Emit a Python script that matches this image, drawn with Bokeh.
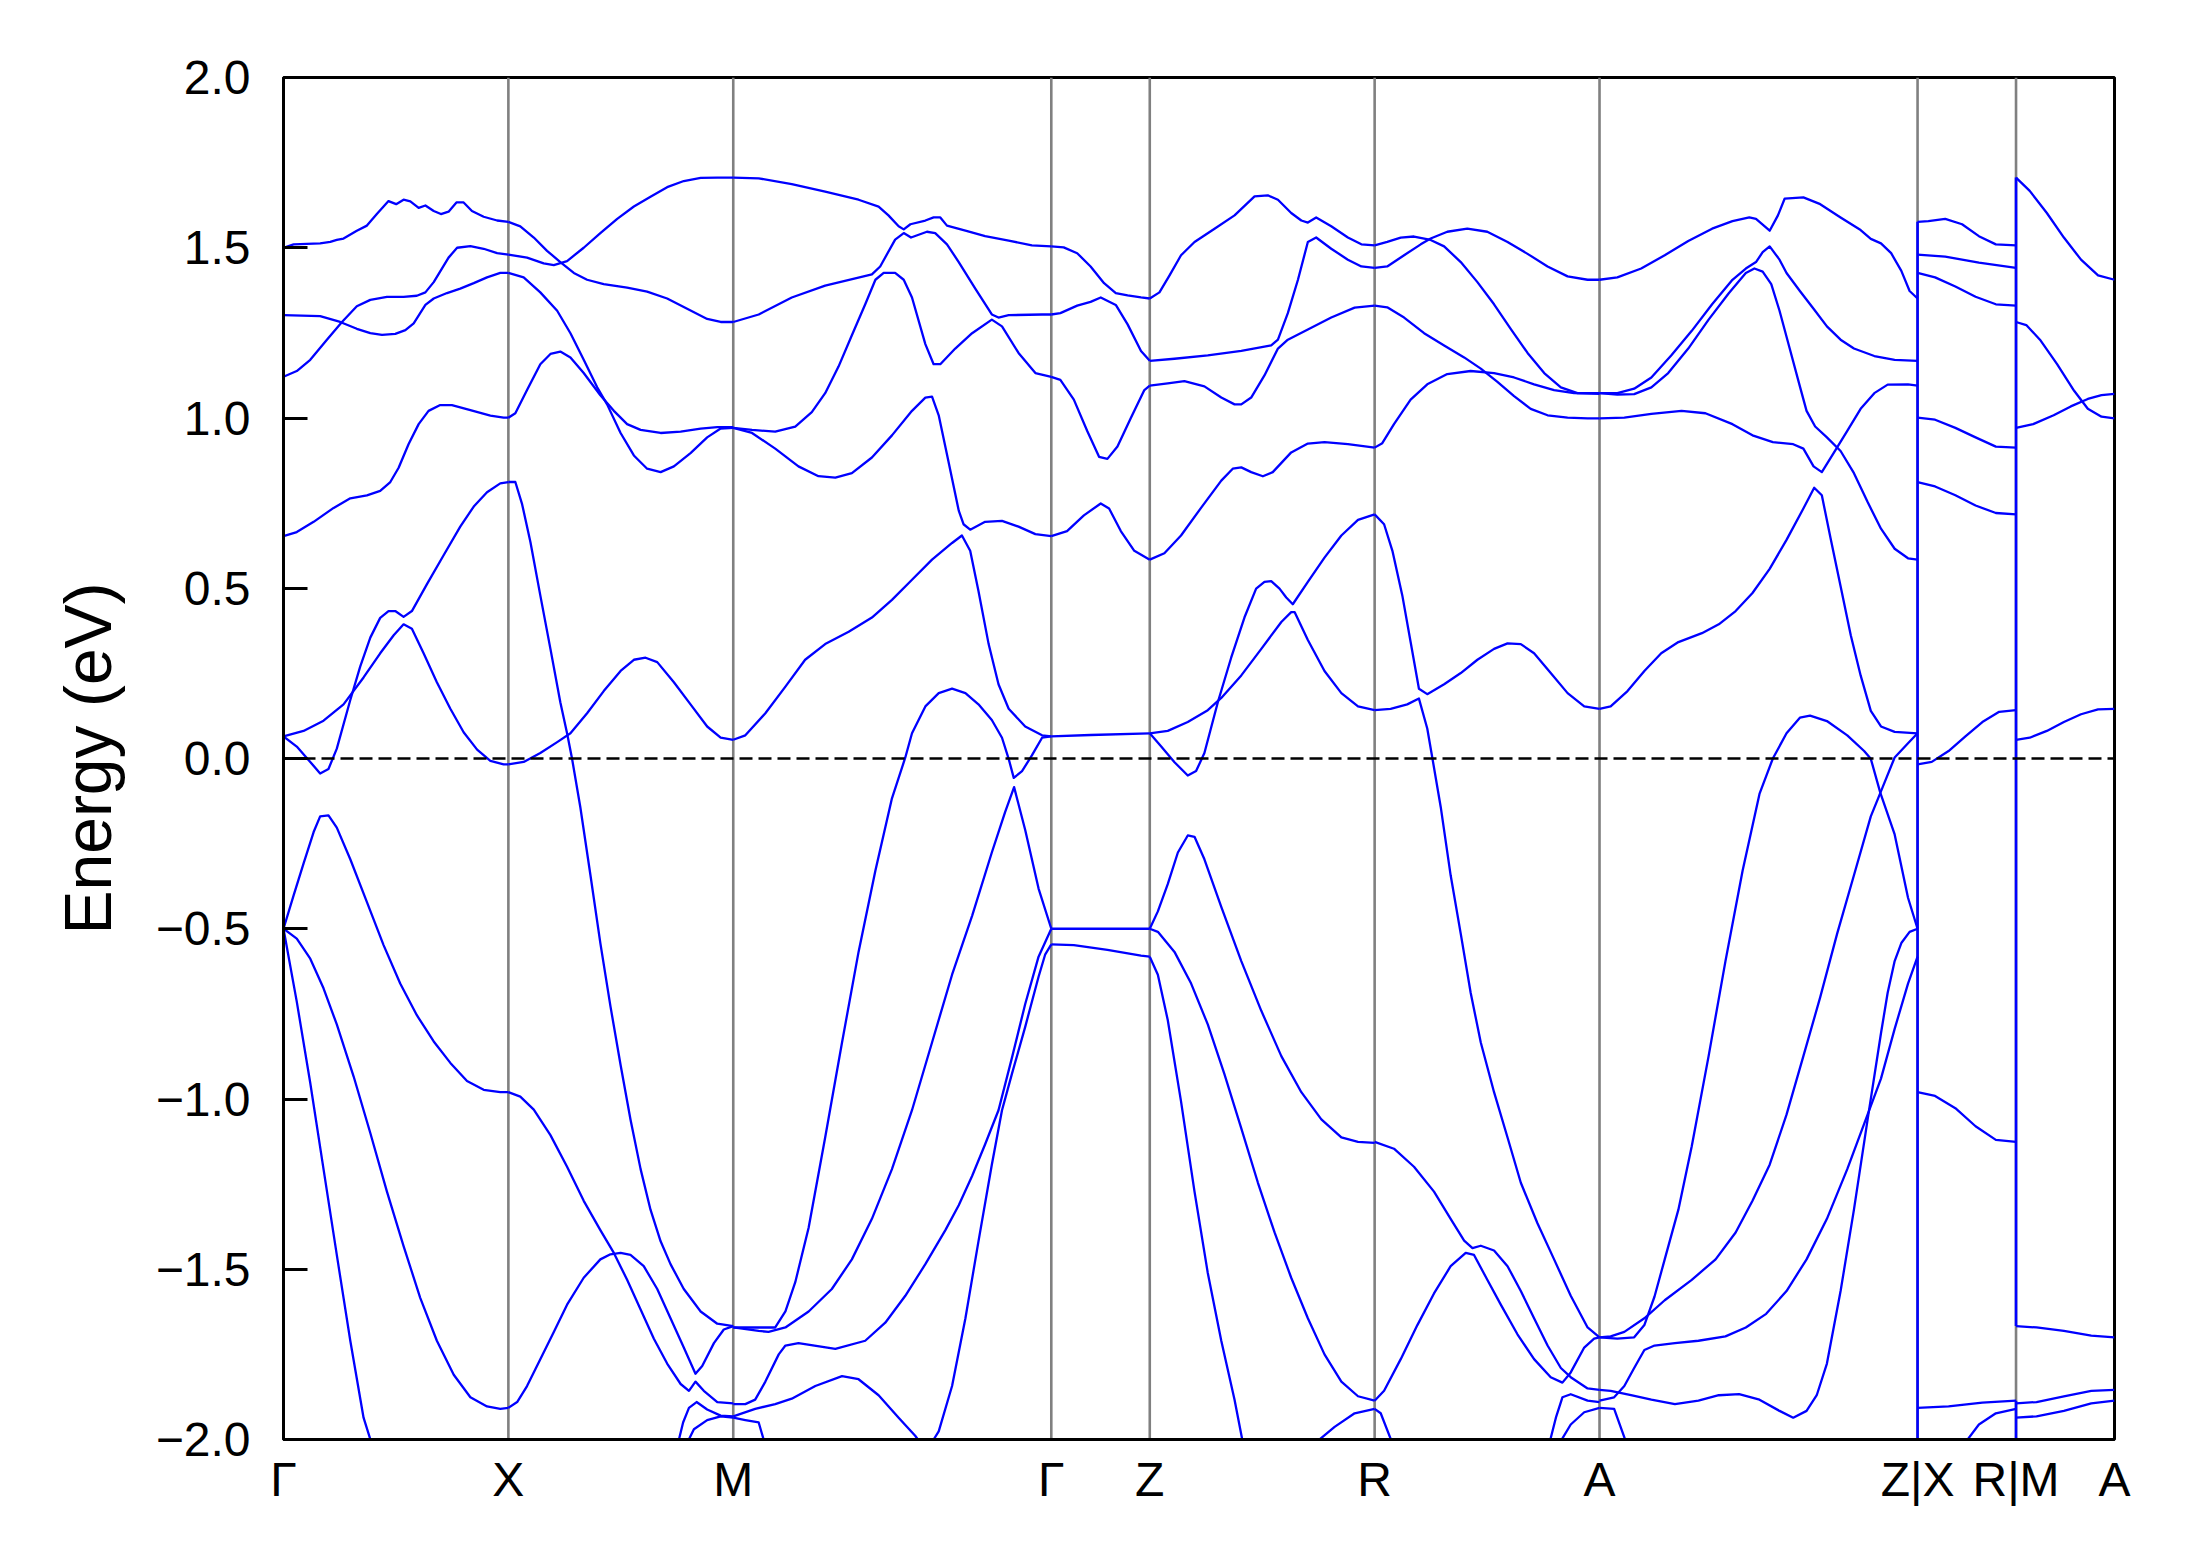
from bokeh.plotting import figure
from bokeh.models import FixedTicker, Span, Range1d
from bokeh.embed import file_html
from bokeh.resources import INLINE

# ---------------- k-path (high-symmetry points) ----------------
kpath_labels = ["Γ", "X", "M", "Γ", "Z", "R", "A", "Z|X", "R|M", "A"]
kpath_pos = [0.0, 0.161, 0.322, 0.5497, 0.6202, 0.7812, 0.9422, 1.1699, 1.2404, 1.3109]

# y ticks
ytick_vals = [-2.0, -1.5, -1.0, -0.5, 0.0, 0.5, 1.0, 1.5, 2.0]
ytick_text = ["−2.0", "−1.5", "−1.0", "−0.5", "0.0", "0.5", "1.0", "1.5", "2.0"]

# ---------------- bands: per segment, (fraction along segment, energy eV) ----------------
GX_bands = [
    ([0, .045, .163, .208, .237, .267, .326, .371, .415, .467, .501, .534, .564, .601, .631, .668, .700, .734, .769, .801, .838, .890, .950, 1],
     [1.500, 1.510, 1.513, 1.517, 1.523, 1.527, 1.550, 1.565, 1.599, 1.637, 1.628, 1.641, 1.636, 1.617, 1.624, 1.608, 1.599, 1.606, 1.633, 1.633, 1.608, 1.591, 1.580, 1.576]),
    ([0, .163, .252, .326, .386, .438, .497, .542, .579, .631, .668, .727, .786, .846, .905, .964, 1],
     [1.302, 1.299, 1.282, 1.262, 1.249, 1.244, 1.247, 1.258, 1.278, 1.332, 1.351, 1.367, 1.380, 1.396, 1.413, 1.426, 1.426]),
    ([0, .059, .119, .193, .260, .326, .386, .460, .534, .593, .631, .668, .734, .772, .831, .890, .950, 1],
     [1.121, 1.138, 1.171, 1.230, 1.282, 1.328, 1.347, 1.356, 1.356, 1.359, 1.369, 1.399, 1.471, 1.500, 1.505, 1.497, 1.484, 1.480]),
    ([0, .059, .134, .223, .297, .371, .430, .475, .512, .556, .601, .645, .697, .749, .831, .920, .979, 1],
     [0.653, 0.665, 0.695, 0.736, 0.764, 0.773, 0.786, 0.812, 0.854, 0.923, 0.982, 1.021, 1.038, 1.038, 1.023, 1.007, 1.001, 1.001]),
    ([0, .089, .178, .267, .356, .430, .490, .534, .571, .623, .682, .742, .801, .861, .920, .979, 1],
     [0.065, 0.081, 0.111, 0.159, 0.238, 0.309, 0.362, 0.394, 0.381, 0.309, 0.224, 0.146, 0.077, 0.026, -0.007, -0.017, -0.017]),
    ([0, .059, .119, .163, .200, .237, .297, .341, .386, .430, .467, .497, .534, .571, .638, .712, .786, .846, .905, .964, 1],
     [0.065, 0.035, -0.010, -0.044, -0.031, 0.029, 0.172, 0.270, 0.355, 0.413, 0.433, 0.433, 0.416, 0.433, 0.512, 0.597, 0.681, 0.740, 0.782, 0.808, 0.812]),
    ([0, .045, .089, .134, .163, .200, .237, .297, .371, .445, .519, .593, .668, .742, .816, .890, .964, 1],
     [-0.500, -0.402, -0.309, -0.216, -0.170, -0.167, -0.203, -0.296, -0.422, -0.548, -0.661, -0.754, -0.831, -0.894, -0.947, -0.973, -0.980, -0.980]),
    ([0, .059, .119, .178, .237, .312, .386, .460, .534, .608, .682, .757, .831, .905, .964, 1],
     [-0.500, -0.529, -0.588, -0.675, -0.781, -0.934, -1.100, -1.272, -1.432, -1.584, -1.710, -1.810, -1.876, -1.903, -1.910, -1.907]),
    ([0, .059, .119, .178, .237, .297, .356, .410],
     [-0.500, -0.714, -0.953, -1.206, -1.458, -1.710, -1.936, -2.05]),
]

XM_bands = [
    ([0, .053, .113, .172, .231, .291, .350, .424, .528, .617, .706, .795, .884, .944, 1],
     [1.576, 1.563, 1.530, 1.491, 1.458, 1.426, 1.406, 1.393, 1.383, 1.371, 1.351, 1.321, 1.291, 1.282, 1.282]),
    ([0, .083, .157, .202, .261, .335, .409, .484, .558, .632, .706, .780, .855, .929, 1],
     [1.480, 1.471, 1.454, 1.449, 1.461, 1.500, 1.543, 1.585, 1.621, 1.650, 1.678, 1.696, 1.705, 1.706, 1.706]),
    ([0, .068, .142, .217, .276, .335, .395, .439, .499, .558, .617, .677, .736, .810, .884, .944, 1],
     [1.426, 1.413, 1.369, 1.315, 1.249, 1.171, 1.090, 1.040, 0.956, 0.890, 0.851, 0.841, 0.858, 0.897, 0.943, 0.969, 0.971]),
    ([0, .031, .083, .142, .187, .231, .276, .335, .409, .469, .528, .588, .677, .766, .855, .929, 1],
     [1.001, 1.014, 1.082, 1.158, 1.188, 1.195, 1.178, 1.132, 1.067, 1.021, 0.982, 0.965, 0.956, 0.960, 0.969, 0.973, 0.973]),
    ([0, .031, .061, .098, .142, .187, .231, .261, .283, .320, .365, .409, .454, .499, .543, .588, .632, .677, .721, .780, .855, .929, 1],
     [0.812, 0.812, 0.747, 0.636, 0.479, 0.322, 0.165, 0.074, 0.000, -0.143, -0.343, -0.542, -0.728, -0.900, -1.060, -1.206, -1.325, -1.418, -1.485, -1.558, -1.624, -1.660, -1.667]),
    ([0, .068, .142, .217, .276, .350, .424, .499, .558, .610, .662, .736, .810, .884, .944, 1],
     [-0.017, -0.010, 0.016, 0.048, 0.074, 0.133, 0.198, 0.257, 0.290, 0.296, 0.283, 0.224, 0.159, 0.094, 0.061, 0.055]),
    ([0, .053, .113, .187, .261, .335, .409, .469, .528, .588, .647, .706, .766, .803, .832, .869, .929, 1],
     [-0.980, -0.993, -1.031, -1.106, -1.199, -1.299, -1.385, -1.452, -1.531, -1.618, -1.704, -1.777, -1.837, -1.857, -1.830, -1.857, -1.890, -1.894]),
    ([0, .039, .083, .142, .202, .261, .335, .409, .454, .499, .543, .602, .662, .721, .780, .832, .862, .914, .958, 1],
     [-1.907, -1.890, -1.843, -1.764, -1.684, -1.604, -1.525, -1.471, -1.456, -1.452, -1.458, -1.491, -1.558, -1.644, -1.730, -1.807, -1.784, -1.717, -1.677, -1.667]),
    ([.740, .777, .803, .837, .884, .944, 1],
     [-2.05, -1.950, -1.907, -1.890, -1.912, -1.930, -1.932]),
    ([.765, .825, .884, .944, 1],
     [-2.05, -1.970, -1.943, -1.932, -1.936]),
]

MG_bands = [
    ([0, .080, .184, .289, .394, .457, .488, .520, .536, .557, .604, .630, .651, .672, .730, .792, .866, .939, 1],
     [1.706, 1.704, 1.687, 1.665, 1.641, 1.621, 1.595, 1.563, 1.554, 1.569, 1.580, 1.589, 1.589, 1.565, 1.550, 1.534, 1.521, 1.507, 1.504]),
    ([0, .080, .184, .289, .436, .462, .509, .536, .559, .609, .635, .672, .709, .761, .813, .834, .866, .971, 1],
     [1.282, 1.304, 1.354, 1.389, 1.422, 1.445, 1.524, 1.543, 1.530, 1.547, 1.543, 1.510, 1.458, 1.380, 1.304, 1.295, 1.302, 1.304, 1.304]),
    ([0, .059, .132, .195, .247, .289, .331, .373, .415, .447, .473, .509, .536, .562, .604, .630, .651, .698, .751, .813, .845, .897, .950, 1],
     [0.971, 0.965, 0.960, 0.975, 1.017, 1.073, 1.151, 1.243, 1.334, 1.406, 1.426, 1.426, 1.406, 1.354, 1.217, 1.158, 1.158, 1.204, 1.249, 1.289, 1.269, 1.191, 1.132, 1.121]),
    ([0, .059, .132, .205, .268, .321, .373, .436, .499, .562, .604, .625, .646, .677, .709, .724, .745, .792, .845, .897, .950, 1],
     [0.971, 0.956, 0.910, 0.858, 0.829, 0.825, 0.838, 0.884, 0.949, 1.021, 1.060, 1.063, 1.008, 0.871, 0.728, 0.688, 0.672, 0.695, 0.698, 0.681, 0.659, 0.653]),
    ([0, .038, .101, .164, .226, .289, .363, .436, .499, .562, .625, .688, .719, .745, .771, .803, .834, .866, .918, .971, 1],
     [0.055, 0.068, 0.133, 0.211, 0.290, 0.336, 0.372, 0.414, 0.466, 0.525, 0.584, 0.633, 0.655, 0.610, 0.492, 0.336, 0.218, 0.146, 0.094, 0.068, 0.065]),
    ([0, .059, .132, .164, .195, .237, .289, .342, .394, .447, .499, .541, .562, .604, .646, .688, .730, .771, .813, .845, .866, .882, .908, .939, .971, 1],
     [-1.671, -1.671, -1.671, -1.624, -1.538, -1.378, -1.113, -0.834, -0.568, -0.329, -0.117, 0.003, 0.074, 0.153, 0.192, 0.205, 0.192, 0.159, 0.113, 0.061, -0.001, -0.057, -0.037, 0.009, 0.061, 0.065]),
    ([0, .080, .111, .164, .237, .310, .373, .436, .499, .562, .625, .688, .751, .813, .855, .883, .918, .960, 1],
     [-1.671, -1.681, -1.684, -1.671, -1.624, -1.558, -1.471, -1.352, -1.206, -1.033, -0.834, -0.635, -0.462, -0.276, -0.157, -0.084, -0.210, -0.382, -0.500]),
    ([0, .038, .069, .101, .143, .164, .205, .321, .415, .478, .541, .604, .667, .709, .751, .792, .834, .876, .918, .960, 1],
     [-1.896, -1.896, -1.883, -1.830, -1.750, -1.724, -1.717, -1.734, -1.710, -1.657, -1.578, -1.485, -1.385, -1.312, -1.226, -1.133, -1.033, -0.880, -0.721, -0.582, -0.500]),
    ([0, .069, .132, .184, .258, .342, .394, .457, .520, .572, .604, .630, .646, .688, .730, .771, .813, .845, .876, .918, .960, .981, 1],
     [-1.932, -1.910, -1.896, -1.880, -1.843, -1.814, -1.823, -1.870, -1.936, -1.989, -2.03, -2.0, -1.976, -1.843, -1.644, -1.418, -1.193, -1.033, -0.927, -0.788, -0.641, -0.575, -0.546]),
    ([0, .038, .080, .111],
     [-1.936, -1.943, -1.950, -2.05]),
]

GZ_bands = [
    ([0, .126, .263, .399, .536, .655, .775, .911, 1], [1.504, 1.501, 1.484, 1.445, 1.396, 1.367, 1.360, 1.354, 1.351]),
    ([0, .092, .263, .399, .502, .655, .775, .911, 1], [1.304, 1.308, 1.330, 1.341, 1.354, 1.332, 1.275, 1.197, 1.168]),
    ([0, .092, .229, .365, .485, .570, .672, .809, .945, 1], [1.121, 1.112, 1.054, 0.962, 0.886, 0.880, 0.916, 1.001, 1.082, 1.095]),
    ([0, .160, .331, .502, .587, .706, .843, 1], [0.653, 0.668, 0.714, 0.749, 0.734, 0.668, 0.610, 0.584]),
    ([0, .399, 1], [0.065, 0.069, 0.074]),
    ([0, 1], [-0.500, -0.500]),
    ([0, .229, .570, .911, 1], [-0.546, -0.548, -0.562, -0.579, -0.582]),
]

ZR_bands = [
    ([0, .043, .088, .139, .199, .288, .377, .466, .525, .570, .629, .674, .703, .740, .807, .881, .941, 1],
     [1.351, 1.369, 1.419, 1.478, 1.517, 1.556, 1.595, 1.651, 1.654, 1.641, 1.602, 1.580, 1.574, 1.589, 1.563, 1.530, 1.510, 1.507]),
    ([0, .110, .258, .407, .540, .570, .614, .659, .703, .740, .807, .881, .941, 1],
     [1.168, 1.174, 1.184, 1.197, 1.213, 1.230, 1.308, 1.406, 1.517, 1.530, 1.497, 1.465, 1.445, 1.441]),
    ([0, .080, .154, .243, .318, .377, .407, .451, .510, .570, .614, .703, .807, .911, 1],
     [1.095, 1.102, 1.108, 1.093, 1.060, 1.040, 1.040, 1.060, 1.125, 1.204, 1.230, 1.260, 1.295, 1.324, 1.330]),
    ([0, .065, .139, .228, .318, .369, .407, .451, .503, .547, .629, .703, .777, .881, 1],
     [0.584, 0.603, 0.655, 0.736, 0.816, 0.851, 0.855, 0.841, 0.829, 0.841, 0.899, 0.925, 0.929, 0.923, 0.913]),
    ([0, .080, .169, .258, .318, .407, .496, .585, .629, .644, .703, .777, .852, .926, 1],
     [0.074, 0.081, 0.107, 0.142, 0.178, 0.244, 0.322, 0.401, 0.430, 0.430, 0.348, 0.257, 0.192, 0.153, 0.142]),
    ([0, .050, .110, .169, .206, .243, .303, .362, .421, .473, .510, .540, .577, .607, .636, .703, .777, .852, .926, 1],
     [0.074, 0.036, -0.011, -0.050, -0.037, 0.016, 0.166, 0.296, 0.414, 0.499, 0.519, 0.521, 0.499, 0.473, 0.453, 0.519, 0.590, 0.655, 0.701, 0.717]),
    ([0, .036, .080, .125, .169, .199, .243, .318, .407, .496, .585, .674, .763, .852, .926, 1],
     [-0.500, -0.449, -0.369, -0.276, -0.226, -0.230, -0.296, -0.436, -0.595, -0.741, -0.874, -0.980, -1.060, -1.113, -1.126, -1.129]),
    ([0, .036, .110, .184, .258, .332, .407, .481, .555, .629, .703, .777, .852, .926, 1],
     [-0.500, -0.509, -0.568, -0.661, -0.781, -0.927, -1.086, -1.246, -1.392, -1.525, -1.644, -1.750, -1.830, -1.873, -1.886]),
    ([0, .036, .080, .139, .199, .258, .318, .377, .420],
     [-0.582, -0.635, -0.768, -1.007, -1.272, -1.511, -1.710, -1.883, -2.03]),
    ([.700, .822, .911, 1],
     [-2.03, -1.963, -1.923, -1.910]),
]

RA_bands = [
    ([0, .056, .116, .175, .249, .309, .383, .457, .531, .605, .680, .754, .828, .902, 1],
     [1.507, 1.517, 1.530, 1.533, 1.523, 1.504, 1.458, 1.399, 1.334, 1.262, 1.191, 1.132, 1.090, 1.073, 1.073]),
    ([0, .056, .131, .205, .249, .323, .412, .501, .591, .680, .769, .858, .947, 1],
     [1.441, 1.445, 1.478, 1.510, 1.527, 1.547, 1.556, 1.547, 1.517, 1.482, 1.445, 1.416, 1.406, 1.406]),
    ([0, .056, .131, .220, .309, .398, .472, .546, .620, .694, .769, .858, .947, 1],
     [1.330, 1.325, 1.295, 1.249, 1.213, 1.178, 1.145, 1.106, 1.064, 1.027, 1.008, 1.001, 0.999, 0.999]),
    ([0, .034, .086, .160, .234, .323, .427, .531, .620, .709, .798, .887, 1],
     [0.913, 0.926, 0.982, 1.054, 1.099, 1.129, 1.138, 1.132, 1.119, 1.099, 1.082, 1.073, 1.071]),
    ([0, .042, .079, .123, .160, .197, .234, .309, .383, .457, .531, .591, .650, .709, .783, .858, .932, 1],
     [0.717, 0.688, 0.610, 0.479, 0.342, 0.205, 0.189, 0.218, 0.251, 0.290, 0.322, 0.338, 0.336, 0.309, 0.251, 0.192, 0.153, 0.146]),
    ([0, .071, .145, .197, .234, .257, .294, .338, .383, .427, .472, .531, .591, .650, .724, .798, .872, .947, 1],
     [0.142, 0.146, 0.159, 0.176, 0.088, 0.000, -0.143, -0.343, -0.515, -0.688, -0.834, -0.980, -1.113, -1.246, -1.365, -1.471, -1.578, -1.671, -1.700]),
    ([0, .086, .175, .264, .338, .398, .435, .472, .531, .591, .650, .709, .769, .828, .872, .947, 1],
     [-1.126, -1.146, -1.199, -1.272, -1.352, -1.416, -1.438, -1.431, -1.445, -1.491, -1.564, -1.644, -1.724, -1.790, -1.817, -1.850, -1.854]),
    ([0, .042, .116, .190, .264, .338, .405, .442, .501, .561, .635, .709, .783, .835, .872, .932, .976, 1],
     [-1.886, -1.857, -1.764, -1.664, -1.571, -1.491, -1.452, -1.458, -1.531, -1.604, -1.691, -1.764, -1.817, -1.833, -1.803, -1.730, -1.704, -1.700]),
    ([0, .027, .090], [-1.910, -1.923, -2.03]),
    ([.770, .806, .835, .872, .947, 1], [-2.03, -1.936, -1.876, -1.867, -1.886, -1.890]),
    ([.805, .872, .932, 1], [-2.03, -1.956, -1.920, -1.907]),
]

AZ_bands = [
    ([0, .056, .131, .205, .279, .354, .418, .471, .492, .535, .561, .582, .641, .694, .758, .821, .853, .885, .917, .949, .975, 1],
     [1.406, 1.413, 1.439, 1.478, 1.520, 1.556, 1.578, 1.589, 1.585, 1.550, 1.595, 1.644, 1.648, 1.628, 1.589, 1.552, 1.526, 1.513, 1.484, 1.432, 1.373, 1.351]),
    ([0, .056, .109, .163, .226, .290, .354, .418, .460, .492, .513, .535, .566, .588, .630, .673, .715, .758, .800, .864, .928, 1],
     [1.073, 1.073, 1.086, 1.119, 1.184, 1.256, 1.334, 1.406, 1.439, 1.458, 1.487, 1.504, 1.465, 1.426, 1.373, 1.321, 1.269, 1.230, 1.204, 1.182, 1.171, 1.168]),
    ([0, .056, .109, .163, .216, .279, .343, .407, .460, .487, .513, .540, .566, .598, .630, .651, .678, .715, .758, .800, .843, .885, .928, .970, 1],
     [1.073, 1.069, 1.070, 1.090, 1.132, 1.204, 1.289, 1.367, 1.426, 1.439, 1.430, 1.393, 1.315, 1.204, 1.093, 1.021, 0.975, 0.943, 0.903, 0.838, 0.753, 0.675, 0.616, 0.588, 0.584]),
    ([0, .078, .163, .258, .333, .418, .481, .545, .609, .641, .673, .699, .736, .779, .821, .864, .906, .970, 1],
     [0.999, 1.001, 1.012, 1.021, 1.014, 0.982, 0.949, 0.929, 0.923, 0.910, 0.858, 0.841, 0.897, 0.962, 1.027, 1.073, 1.098, 1.099, 1.095]),
    ([0, .035, .088, .141, .194, .248, .322, .375, .428, .481, .535, .588, .641, .675, .699, .726, .758, .790, .821, .853, .885, .928, 1],
     [0.146, 0.153, 0.198, 0.257, 0.309, 0.342, 0.368, 0.394, 0.433, 0.486, 0.557, 0.642, 0.734, 0.795, 0.773, 0.649, 0.506, 0.362, 0.244, 0.140, 0.094, 0.078, 0.074]),
    ([0, .056, .109, .141, .173, .205, .248, .290, .343, .396, .450, .503, .545, .588, .630, .662, .715, .779, .832, .853, .883, .928, .970, 1],
     [-1.700, -1.704, -1.700, -1.664, -1.580, -1.471, -1.325, -1.139, -0.874, -0.595, -0.329, -0.104, 0.000, 0.074, 0.120, 0.126, 0.110, 0.068, 0.022, -0.001, -0.101, -0.223, -0.409, -0.500]),
    ([0, .035, .078, .141, .205, .290, .365, .428, .481, .535, .588, .641, .694, .747, .800, .853, .883, .928, .970, 1],
     [-1.700, -1.697, -1.684, -1.644, -1.591, -1.531, -1.471, -1.392, -1.299, -1.193, -1.046, -0.874, -0.701, -0.515, -0.343, -0.170, -0.101, 0.003, 0.045, 0.074]),
    ([0, .035, .099, .163, .237, .311, .375, .439, .503, .566, .609, .651, .683, .715, .758, .800, .843, .885, .906, .928, .949, .975, 1],
     [-1.854, -1.857, -1.870, -1.883, -1.896, -1.886, -1.870, -1.867, -1.883, -1.916, -1.936, -1.916, -1.870, -1.777, -1.564, -1.325, -1.060, -0.807, -0.688, -0.595, -0.542, -0.509, -0.500]),
    ([0, .046, .078, .109, .141, .173, .237, .311, .396, .460, .524, .588, .651, .715, .779, .832, .885, .928, .970, 1],
     [-1.886, -1.876, -1.843, -1.790, -1.737, -1.724, -1.717, -1.710, -1.697, -1.671, -1.631, -1.564, -1.471, -1.352, -1.206, -1.073, -0.940, -0.794, -0.661, -0.582]),
    ([0, .046, .092], [-1.907, -1.910, -2.03]),
]

XR_bands = [
    ([0, .110, .281, .452, .623, .795, 1], [1.576, 1.578, 1.585, 1.569, 1.534, 1.510, 1.507]),
    ([0, .281, .623, 1], [1.480, 1.474, 1.456, 1.441]),
    ([0, .178, .384, .589, .795, 1], [1.426, 1.413, 1.386, 1.356, 1.334, 1.330]),
    ([0, .178, .384, .589, .795, 1], [1.001, 0.995, 0.971, 0.943, 0.916, 0.913]),
    ([0, .178, .384, .589, .795, 1], [0.812, 0.799, 0.773, 0.743, 0.721, 0.717]),
    ([0, .144, .315, .486, .658, .829, 1], [-0.017, -0.010, 0.022, 0.065, 0.107, 0.137, 0.142]),
    ([0, .178, .384, .589, .795, 1], [-0.980, -0.991, -1.027, -1.080, -1.120, -1.126]),
    ([0, .315, .658, 1], [-1.907, -1.903, -1.892, -1.886]),
    ([.430, .623, .795, 1], [-2.03, -1.956, -1.923, -1.910]),
]

MA_bands = [
    ([0, .139, .313, .486, .660, .833, 1], [1.706, 1.667, 1.602, 1.530, 1.465, 1.419, 1.406]),
    ([0, .104, .243, .417, .590, .729, .868, 1], [1.282, 1.273, 1.230, 1.158, 1.080, 1.027, 1.004, 0.999]),
    ([0, .174, .382, .556, .729, .868, 1], [0.971, 0.982, 1.008, 1.034, 1.056, 1.067, 1.071]),
    ([0, .139, .313, .486, .660, .833, 1], [0.055, 0.061, 0.081, 0.107, 0.130, 0.144, 0.146]),
    ([0, .208, .486, .764, 1], [-1.667, -1.671, -1.681, -1.695, -1.700]),
    ([0, .208, .486, .764, 1], [-1.894, -1.890, -1.873, -1.857, -1.854]),
    ([0, .208, .486, .764, 1], [-1.936, -1.932, -1.916, -1.894, -1.886]),
]

# discontinuities (band lines joined vertically): energy spans drawn at Z|X and R|M
ZX_jump_lo = [-2.03]
ZX_jump_hi = [1.576]
RM_jump_lo = [-1.667, -2.03]
RM_jump_hi = [1.706, -1.886]

# segment table: start point index, end point index, bands
segments = [
    (0, 1, GX_bands), (1, 2, XM_bands), (2, 3, MG_bands), (3, 4, GZ_bands),
    (4, 5, ZR_bands), (5, 6, RA_bands), (6, 7, AZ_bands), (7, 8, XR_bands), (8, 9, MA_bands),
]

xs, ys = [], []
for i0, i1, bands in segments:
    k0, k1 = kpath_pos[i0], kpath_pos[i1]
    for t, e in bands:
        xs.append([k0 + ti * (k1 - k0) for ti in t])
        ys.append(list(e))

# ---------------- figure ----------------
W, H = 2172, 1550
p = figure(width=W, height=H,
           x_range=Range1d(kpath_pos[0], kpath_pos[-1]), y_range=Range1d(-2.0, 2.0),
           output_backend="svg", toolbar_location=None,
           min_border_left=283, min_border_right=58, min_border_top=77, min_border_bottom=111)
p.background_fill_color = "white"
p.border_fill_color = "white"
p.xgrid.visible = False
p.ygrid.visible = False
p.outline_line_color = "black"
p.outline_line_width = 3
p.outline_line_alpha = 1.0

# vertical high-symmetry lines
for kp in kpath_pos[1:-1]:
    p.add_layout(Span(location=kp, dimension="height", line_color="#808080",
                      line_width=2.6, level="underlay"))

# bands
p.multi_line(xs, ys, line_color="#0000ff", line_width=2.3, line_join="round")

# discontinuity joins
p.segment(x0=[kpath_pos[7]] * len(ZX_jump_lo), y0=ZX_jump_lo, x1=[kpath_pos[7]] * len(ZX_jump_hi), y1=ZX_jump_hi,
          line_color="#0000ff", line_width=2.6)
p.segment(x0=[kpath_pos[8]] * len(RM_jump_lo), y0=RM_jump_lo, x1=[kpath_pos[8]] * len(RM_jump_hi), y1=RM_jump_hi,
          line_color="#0000ff", line_width=2.6)

# Fermi level
p.add_layout(Span(location=0.0, dimension="width", line_color="black", line_width=2.4,
                  line_dash="13 6", level="overlay"))

# axes
font = "Liberation Sans"
p.xaxis.ticker = FixedTicker(ticks=kpath_pos)
p.xaxis.major_label_overrides = {kp: lab for kp, lab in zip(kpath_pos, kpath_labels)}
p.yaxis.ticker = FixedTicker(ticks=ytick_vals)
p.yaxis.major_label_overrides = {v: s for v, s in zip(ytick_vals, ytick_text)}

for ax in (p.xaxis[0], p.yaxis[0]):
    ax.major_label_text_font = font
    ax.major_label_text_font_size = "48px"
    ax.major_label_text_color = "black"
    ax.axis_line_color = "black"
    ax.axis_line_width = 3
    ax.minor_tick_line_color = None
    ax.major_tick_line_color = "black"
    ax.major_tick_line_width = 3

p.xaxis.major_tick_in = 0
p.xaxis.major_tick_out = 0
p.xaxis.major_label_standoff = 13

p.yaxis.major_tick_in = 24
p.yaxis.major_tick_out = 0
p.yaxis.major_label_standoff = 33
p.yaxis.axis_label = "Energy (eV)"
p.yaxis.axis_label_text_font = font
p.yaxis.axis_label_text_font_size = "66px"
p.yaxis.axis_label_text_font_style = "normal"
p.yaxis.axis_label_text_color = "black"
p.yaxis.axis_label_standoff = 28

open("out.html", "w").write(file_html(p, INLINE))
